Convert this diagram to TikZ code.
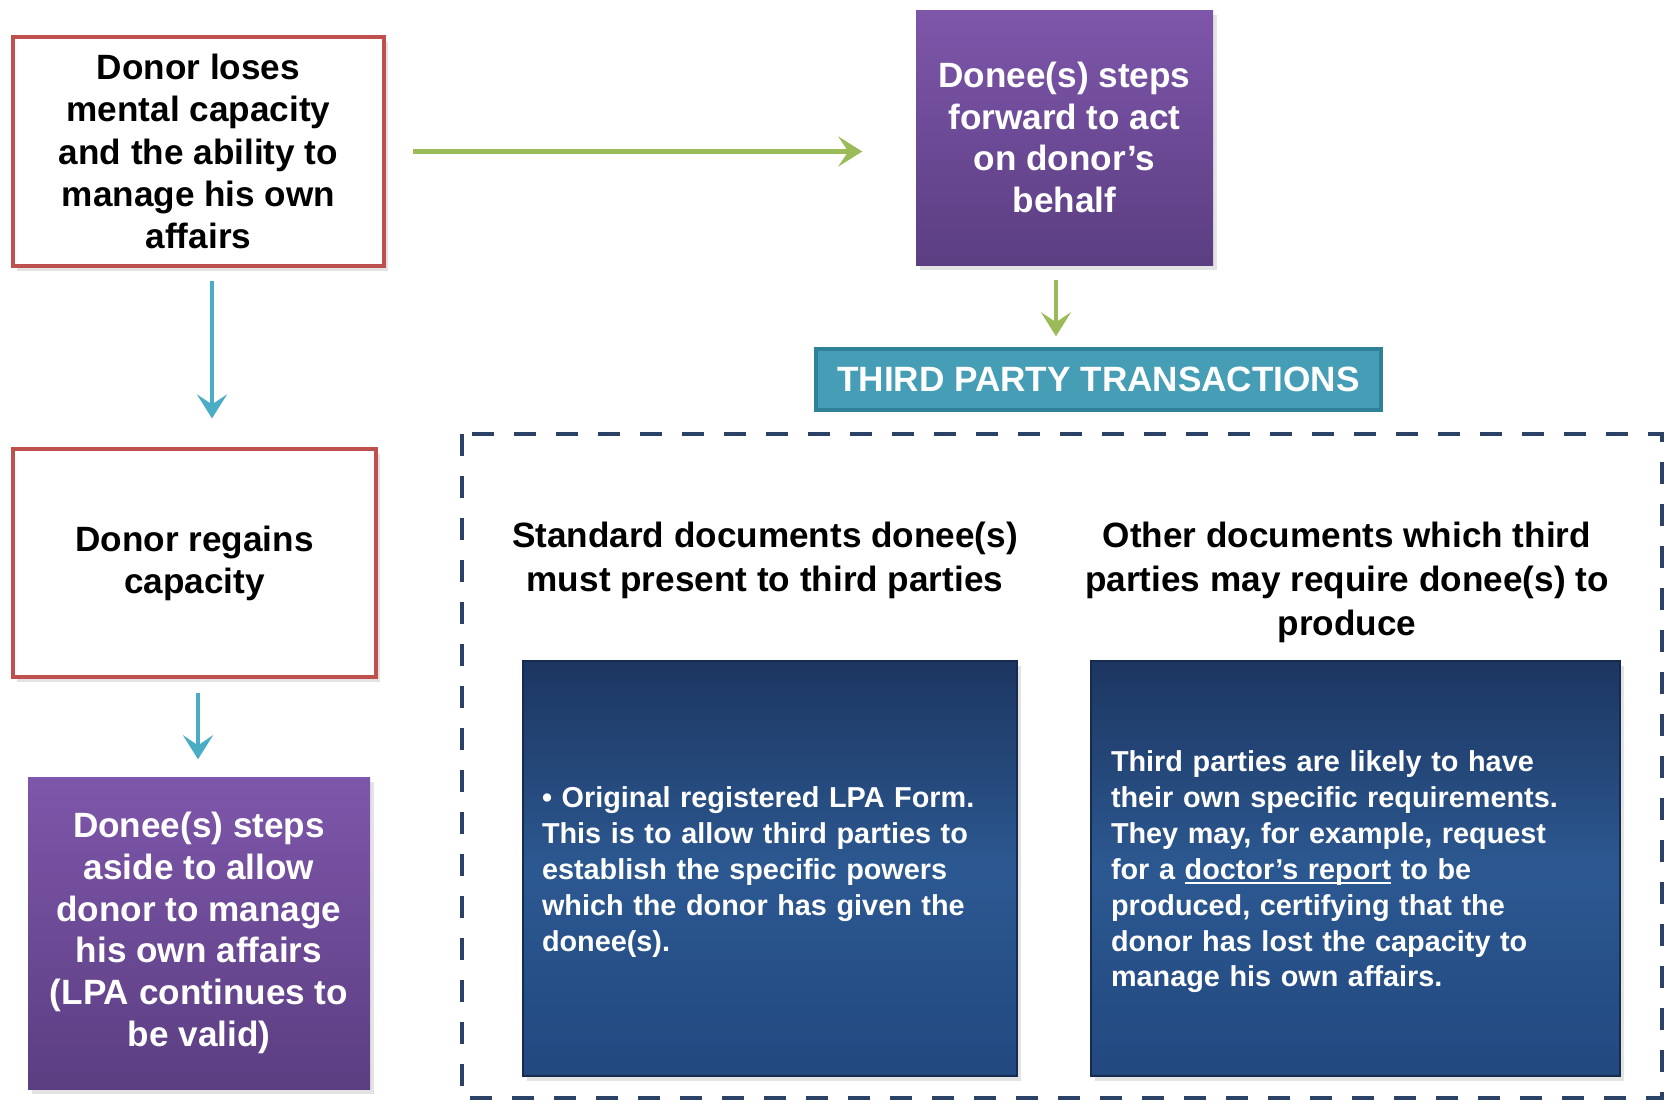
\documentclass[tikz,border=0pt]{standalone}
\usepackage{fontspec}
\setmainfont{Liberation Sans}
\usepackage{tikz}
\usetikzlibrary{positioning, arrows.meta, shadows, calc}
\tikzset{>={Stealth[length=2.4mm, width=3mm, inset=1mm]}}

\definecolor{lpared}{HTML}{C0504D}
\definecolor{lpagreen}{HTML}{9BBB59}
\definecolor{lpaaqua}{HTML}{4BACC6}
\definecolor{lpateal}{HTML}{2E8198}
\definecolor{lpanavy}{HTML}{2B4266}
\definecolor{purpletop}{HTML}{7E56AA}
\definecolor{purplebot}{HTML}{5B3E82}
\definecolor{doctop}{HTML}{1C3660}
\definecolor{docmid}{HTML}{2C5891}
\definecolor{docbot}{HTML}{22487F}

% underline sitting close under the baseline
\newcommand{\linkline}[1]{\setbox0\hbox{#1}\rlap{\rule[-1.3pt]{\wd0}{0.5pt}}\box0\relax}

\tikzset{
    softshadow/.style={drop shadow={opacity=0.22, shadow xshift=0.04cm, shadow yshift=-0.05cm}},
    redbox/.style={draw=lpared, line width=0.9pt, fill=white, softshadow, align=center,
        inner sep=0pt, font=\bfseries\fontsize{10}{12}\selectfont},
    purplebox/.style={top color=purpletop, bottom color=purplebot, softshadow, align=center,
        inner sep=0pt, text=white, font=\bfseries\fontsize{10}{11.85}\selectfont},
    docbox/.style={top color=doctop, bottom color=docbot, middle color=docmid, draw=doctop!80!black,
        line width=0.4pt, softshadow, align=left, inner sep=0pt, text=white,
        font=\bfseries\fontsize{8.2}{10.2}\selectfont},
    headtext/.style={align=center, inner sep=0pt, font=\bfseries\fontsize{10}{12.5}\selectfont},
    greenarrow/.style={->, lpagreen, line width=1.4pt},
    bluearrow/.style={->, lpaaqua, line width=1.4pt}
}

\begin{document}
\begin{tikzpicture}
    \useasboundingbox (0,0) rectangle (16.67,-11.02);

    % dashed frame round the third party part
    \draw[lpanavy, line width=1.1pt, dash pattern=on 2.2mm off 2mm] (4.62,-4.34) rectangle (16.62,-10.98);

    \node[redbox, minimum width=3.71cm, minimum height=2.29cm] (loses) at (1.985,-1.515)
        {Donor loses\\mental capacity\\and the ability to\\manage his own\\affairs};
    \node[purplebox, minimum width=2.97cm, minimum height=2.55cm] (forward) at (10.645,-1.375)
        {Donee(s) steps\\forward to act\\on donor’s\\behalf};
    \node[draw=lpateal, fill=lpaaqua!92!black, line width=1pt, inner sep=0pt, text=white,
        minimum width=5.65cm, minimum height=0.61cm, font=\bfseries\fontsize{10}{12}\selectfont]
        (thirdparty) at (10.985,-3.795) {THIRD PARTY TRANSACTIONS};

    \node[redbox, minimum width=3.63cm, minimum height=2.28cm] (regains) at (1.945,-5.63)
        {Donor regains\\capacity};
    \node[purplebox, minimum width=3.42cm, minimum height=3.12cm] (aside) at (1.99,-9.33)
        {Donee(s) steps\\aside to allow\\donor to manage\\his own affairs\\(LPA continues to\\be valid)};

    \node[headtext, anchor=north] (stdhead) at (7.65,-5.21)
        {Standard documents donee(s)\\must present to third parties};
    \node[headtext, anchor=north] (otherhead) at (13.47,-5.21)
        {Other documents which third\\parties may require donee(s) to\\produce};

    \node[docbox, minimum width=4.94cm, minimum height=4.15cm, text width=4.56cm] (stddocs) at (7.70,-8.685)
        {\rule{0pt}{0.28cm}• Original registered LPA Form.\\This is to allow third parties to\\establish the specific powers\\which the donor has given the\\donee(s).};
    \node[docbox, minimum width=5.29cm, minimum height=4.15cm, text width=4.89cm] (otherdocs) at (13.555,-8.685)
        {\rule{0pt}{0.28cm}Third parties are likely to have\\their own specific requirements.\\They may, for example, request\\for a \linkline{doctor’s report} to be\\produced, certifying that the\\donor has lost the capacity to\\manage his own affairs.};

    \draw[greenarrow, shorten <=0.27cm, shorten >=0.53cm] (loses.east) -- (loses.east -| forward.west);
    \draw[greenarrow, shorten <=0.14cm, shorten >=0.11cm] ([xshift=-0.085cm]forward.south) -- ([xshift=-0.085cm]forward.south |- thirdparty.north);
    \draw[bluearrow, shorten <=0.13cm, shorten >=0.29cm] ([xshift=0.135cm]loses.south) -- ([xshift=0.135cm]loses.south |- regains.north);
    \draw[bluearrow, shorten <=0.14cm, shorten >=0.17cm] ([xshift=0.035cm]regains.south) -- ([xshift=0.035cm]regains.south |- aside.north);
\end{tikzpicture}
\end{document}
